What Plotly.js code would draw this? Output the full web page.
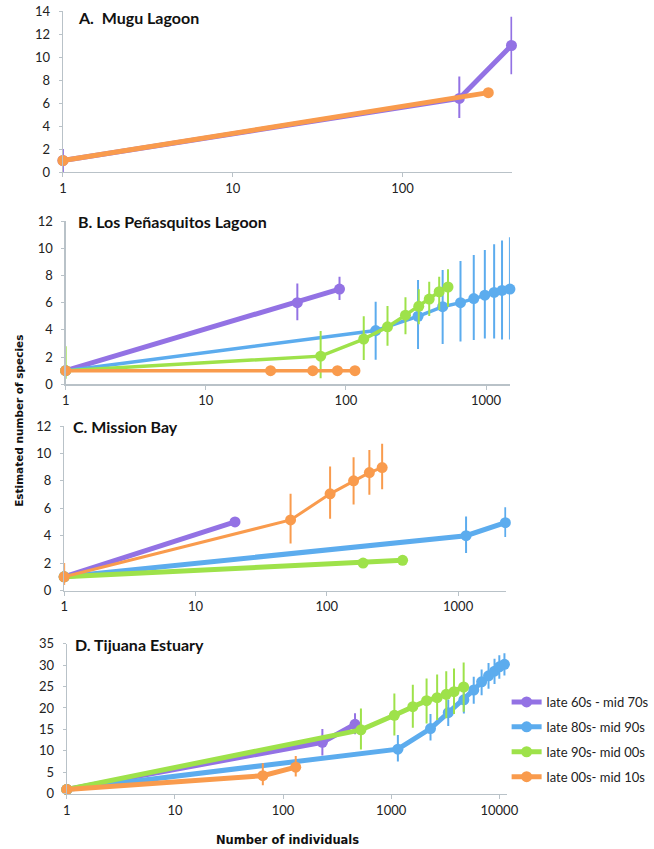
<!DOCTYPE html>
<html>
<head>
<meta charset="utf-8">
<script src="https://cdn.plot.ly/plotly-3.0.1.min.js"></script>
<style>html,body{margin:0;padding:0;background:#fff;}#chart{width:654px;height:849px;}</style>
</head>
<body>
<div id="chart"></div>
<script>
// ---------- DATA ----------
const seriesNames = ["late 60s - mid 70s", "late 80s- mid 90s", "late 90s- mid 00s", "late 00s- mid 10s"];
const panelTitles = ["A.  Mugu Lagoon", "B. Los Peñasquitos Lagoon", "C. Mission Bay", "D. Tijuana Estuary"];
const xTickVals = [1, 10, 100, 1000, 10000];
const xTickText = ["1", "10", "100", "1000", "10000"];

// A. Mugu Lagoon
const A_purple_x = [1, 216, 438];
const A_purple_y = [1, 6.4, 11];
const A_purple_lo = [0, 4.7, 8.5];
const A_purple_hi = [2, 8.3, 13.5];
const A_orange_x = [1, 320];
const A_orange_y = [1, 6.9];

// B. Los Peñasquitos Lagoon
const B_purple_x = [1, 45, 90];
const B_purple_y = [1, 6.0, 7.0];
const B_purple_lo = [1, 4.7, 6.2];
const B_purple_hi = [1, 7.4, 7.9];
const B_blue_x = [1, 163, 327, 490, 657, 817, 980, 1142, 1300, 1480];
const B_blue_y = [1, 3.95, 5.0, 5.7, 6.0, 6.3, 6.55, 6.75, 6.9, 7.0];
const B_blue_lo = [1, 1.8, 2.6, 2.96, 3.14, 3.26, 3.36, 3.36, 3.3, 3.3];
const B_blue_hi = [1, 6.07, 7.67, 8.4, 9.06, 9.5, 9.87, 10.3, 10.56, 10.8];
const B_green_x = [1, 66, 134, 198, 266, 331, 393, 463, 535];
const B_green_y = [1, 2.07, 3.32, 4.22, 5.08, 5.73, 6.26, 6.8, 7.15];
const B_green_lo = [0.4, 0.44, 1.79, 2.84, 3.67, 4.41, 5.02, 5.46, 5.7];
const B_green_hi = [2.8, 3.92, 5.0, 5.76, 6.39, 6.98, 7.54, 7.9, 8.45];
const B_orange_x = [1, 29, 58, 87, 116];
const B_orange_y = [1, 1, 1, 1, 1];

// C. Mission Bay
const C_purple_x = [1, 20];
const C_purple_y = [1, 5.0];
const C_blue_x = [1, 1150, 2290];
const C_blue_y = [1, 4.0, 4.95];
const C_blue_lo = [1, 2.74, 3.9];
const C_blue_hi = [1, 5.4, 6.08];
const C_green_x = [1, 189, 378];
const C_green_y = [1, 2.0, 2.2];
const C_orange_x = [1, 53, 106, 160, 211, 264];
const C_orange_y = [1, 5.15, 7.05, 8.0, 8.6, 8.97];
const C_orange_lo = [0.4, 3.42, 5.24, 6.28, 6.98, 7.39];
const C_orange_hi = [2.0, 7.05, 9.04, 9.72, 10.25, 10.7];

// D. Tijuana Estuary
const D_purple_x = [1, 231, 463];
const D_purple_y = [1, 12.0, 16.2];
const D_purple_lo = [1, 8.9, 13.9];
const D_purple_hi = [1, 15.1, 18.8];
const D_blue_x = [1, 1153, 2310, 3370, 4700, 5800, 6860, 7950, 9030, 10000, 11150];
const D_blue_y = [1, 10.4, 15.2, 18.9, 21.9, 24.2, 26.1, 27.5, 28.6, 29.6, 30.2];
const D_blue_lo = [1, 7.5, 12.4, 15.8, 18.7, 21.0, 23.0, 24.5, 25.6, 26.8, 27.6];
const D_blue_hi = [1, 13.7, 18.6, 22.0, 25.1, 27.3, 29.0, 30.5, 31.5, 32.3, 32.8];
const D_green_x = [1, 525, 1070, 1585, 2125, 2660, 3230, 3810, 4680];
const D_green_y = [1, 14.9, 18.3, 20.3, 21.7, 22.4, 23.2, 23.8, 24.9];
const D_green_lo = [1, 10.3, 13.6, 15.4, 16.4, 17.2, 17.6, 18.6, 19.1];
const D_green_hi = [1, 19.9, 23.4, 25.4, 26.9, 27.8, 28.6, 29.2, 30.6];
const D_orange_x = [1, 65, 131];
const D_orange_y = [1, 4.2, 6.2];
const D_orange_lo = [1, 2.0, 4.0];
const D_orange_hi = [1, 7.1, 8.8];

// ---------- STYLE ----------
const COL = {purple: "#9372e4", blue: "#5cacee", green: "#9ee24a", orange: "#f99b4d"};
const W = 654, H = 849;

function tr(x, y, lo, hi, color, idx, name, showlegend, lw) {
  const t = {
    type: "scatter", mode: "lines+markers", x: x, y: y,
    xaxis: "x" + (idx === 1 ? "" : idx), yaxis: "y" + (idx === 1 ? "" : idx),
    name: name, legendgroup: name, showlegend: showlegend,
    line: {color: color, width: lw || 4.5},
    marker: {color: color, size: 11},
    cliponaxis: false, hoverinfo: "skip"
  };
  if (lo && hi) {
    t.error_y = {type: "data", symmetric: false,
      array: hi.map((h, i) => h - y[i]), arrayminus: lo.map((l, i) => y[i] - l),
      color: color, thickness: 2, width: 0};
  }
  return t;
}

const data = [
  tr(A_purple_x, A_purple_y, A_purple_lo, A_purple_hi, COL.purple, 1, seriesNames[0], false, 5),
  tr(A_orange_x, A_orange_y, null, null, COL.orange, 1, seriesNames[3], false, 5),

  tr(B_purple_x, B_purple_y, B_purple_lo, B_purple_hi, COL.purple, 2, seriesNames[0], false, 5),
  tr(B_blue_x, B_blue_y, B_blue_lo, B_blue_hi, COL.blue, 2, seriesNames[1], false, 3.5),
  tr(B_green_x, B_green_y, B_green_lo, B_green_hi, COL.green, 2, seriesNames[2], false, 3.5),
  tr(B_orange_x, B_orange_y, null, null, COL.orange, 2, seriesNames[3], false, 3.5),

  tr(C_purple_x, C_purple_y, null, null, COL.purple, 3, seriesNames[0], false, 5),
  tr(C_blue_x, C_blue_y, C_blue_lo, C_blue_hi, COL.blue, 3, seriesNames[1], false, 5),
  tr(C_green_x, C_green_y, null, null, COL.green, 3, seriesNames[2], false, 5),
  tr(C_orange_x, C_orange_y, C_orange_lo, C_orange_hi, COL.orange, 3, seriesNames[3], false, 3),

  tr(D_purple_x, D_purple_y, D_purple_lo, D_purple_hi, COL.purple, 4, seriesNames[0], true, 5),
  tr(D_blue_x, D_blue_y, D_blue_lo, D_blue_hi, COL.blue, 4, seriesNames[1], true, 5),
  tr(D_green_x, D_green_y, D_green_lo, D_green_hi, COL.green, 4, seriesNames[2], true, 5),
  tr(D_orange_x, D_orange_y, D_orange_lo, D_orange_hi, COL.orange, 4, seriesNames[3], true, 5)
];

// panel geometry in pixels: [left, right, top, bottom]
const panels = [
  {l: 66.7, r: 543, t: 11, b: 172, ymax: 14, dy: 2},
  {l: 69.6, r: 540.5, t: 221, b: 384.3, ymax: 12, dy: 2},
  {l: 68, r: 536.7, t: 426, b: 590.5, ymax: 12, dy: 2},
  {l: 70.8, r: 537.5, t: 643.7, b: 793.7, ymax: 35, dy: 5}
];
// x extents (right-hand end of each log axis, in individuals)
const xMax = [443, 1480, 2330, 11800];

const axisCol = "#b9c2c8";
const tickFont = {family: "Lato, 'Open Sans', sans-serif", size: 13, color: "#222"};
const layout = {
  width: W, height: H,
  margin: {l: 0, r: 0, t: 0, b: 0},
  paper_bgcolor: "#fff", plot_bgcolor: "rgba(0,0,0,0)",
  showlegend: true,
  legend: {x: 537 / W, y: 1 - 687 / H, xanchor: "left", yanchor: "top",
    font: {family: "Lato, 'Open Sans', sans-serif", size: 13, color: "#222"},
    traceorder: "grouped", tracegroupgap: 5, bgcolor: "rgba(0,0,0,0)", itemwidth: 30},
  annotations: [],
  font: {family: "Lato, sans-serif"}
};
panels.forEach((p, i) => {
  const k = i === 0 ? "" : String(i + 1);
  layout["xaxis" + k] = {
    type: "log", range: [0, Math.log10(xMax[i])],
    domain: [p.l / W, p.r / W], anchor: "y" + k,
    tickvals: xTickVals, ticktext: xTickText,
    showline: true, linecolor: axisCol, linewidth: 1.2,
    ticks: "outside", ticklen: 4, tickcolor: axisCol,
    showgrid: false, zeroline: false, tickfont: tickFont, fixedrange: true
  };
  layout["yaxis" + k] = {
    range: [0, p.ymax], dtick: p.dy, tick0: 0,
    domain: [1 - p.b / H, 1 - p.t / H], anchor: "x" + k,
    showline: true, linecolor: axisCol, linewidth: 1.2,
    ticks: "outside", ticklen: 3, tickcolor: axisCol, ticklabelstandoff: 6,
    showgrid: false, zeroline: false, tickfont: tickFont, fixedrange: true
  };
});
const titlePos = [[81, 17], [81, 221], [75, 426], [77, 644]];
panelTitles.forEach((t, i) => {
  layout.annotations.push({
    text: "<b>" + t + "</b>", xref: "paper", yref: "paper",
    x: titlePos[i][0] / W, y: 1 - titlePos[i][1] / H, xanchor: "left", yanchor: "middle",
    showarrow: false, font: {family: "Lato, 'Open Sans', sans-serif", size: 16, color: "#111"}
  });
});
layout.annotations.push({
  text: "<b>Estimated number of species</b>", xref: "paper", yref: "paper",
  x: 20 / W, y: 1 - 421 / H, xanchor: "center", yanchor: "middle", textangle: -90,
  showarrow: false, font: {family: "'DejaVu Sans', Verdana, sans-serif", size: 10.5, color: "#111"}
});
layout.annotations.push({
  text: "<b>Number of individuals</b>", xref: "paper", yref: "paper",
  x: 305 / W, y: 1 - 840 / H, xanchor: "center", yanchor: "middle",
  showarrow: false, font: {family: "'DejaVu Sans', Verdana, sans-serif", size: 11.5, color: "#111"}
});

Plotly.newPlot("chart", data, layout, {displayModeBar: false, staticPlot: true});
</script>
</body>
</html>
